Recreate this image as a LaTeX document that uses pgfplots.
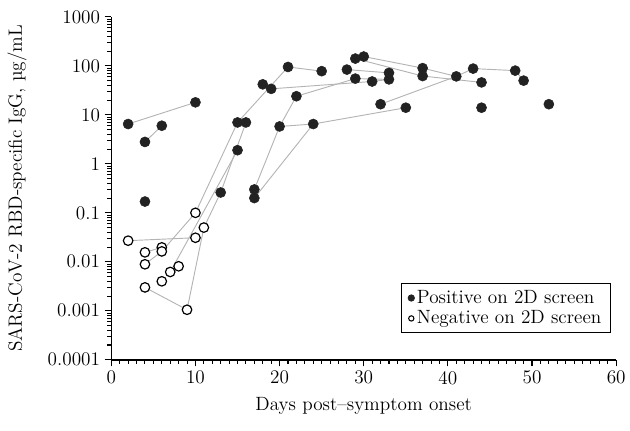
\documentclass[border=0pt]{standalone}
\usepackage{fontspec}
\usepackage{pgfplots}
\pgfplotsset{compat=1.18}
\definecolor{dot}{HTML}{222222}
\definecolor{link}{HTML}{B4B4B4}

\begin{document}
\begin{tikzpicture}
\begin{axis}[
  scale only axis,
  width=381pt, height=258.75pt,
  ymode=log,
  xmin=0, xmax=60, ymin=1e-4, ymax=1e3,
  axis lines*=left,
  axis line style={line width=1.1pt, black},
  tick align=outside,
  tick style={black, line width=0.8pt},
  major tick length=5pt, minor tick length=3pt,
  xtick={0,10,...,60}, minor x tick num=9,
  ytick={1e-4,1e-3,1e-2,1e-1,1,10,100,1000},
  yticklabels={0.0001,0.001,0.01,0.1,1,10,100,1000},
  /pgf/number format/assume math mode=true,
  tick label style={font=\fontsize{14.5}{16}\selectfont},
  label style={font=\fontsize{14.5}{16}\selectfont},
  xlabel={Days post–symptom onset},
  ylabel={SARS-CoV-2 RBD-specific IgG, µg/mL},
  xlabel style={yshift=-3pt},
  ylabel style={yshift=9pt},
  clip=false,
  legend style={font=\fontsize{14.5}{15}\selectfont, draw=black, line width=0.8pt,
    at={(0.99,0.223)}, anchor=north east, inner xsep=5pt, inner ysep=3pt,
    row sep=0pt, cells={anchor=west}},
  legend cell align=left,
  legend image code/.code={\draw[#1] plot coordinates {(0.12cm,0cm)};},
]
% gray links between samples of the same patient
\addplot[link, line width=0.7pt, forget plot] coordinates {(2,6.5) (10,18)};
\addplot[link, line width=0.7pt, forget plot] coordinates {(4,2.8) (6,6)};
\addplot[link, line width=0.7pt, forget plot] coordinates {(2,0.027) (10,0.031)};
\addplot[link, line width=0.7pt, forget plot] coordinates {(4,0.0156) (6,0.0197)};
\addplot[link, line width=0.7pt, forget plot] coordinates {(4,0.0089) (6,0.0163) (10,0.1) (15,7) (21,95) (25,78)};
\addplot[link, line width=0.7pt, forget plot] coordinates {(4,0.003) (9,0.00105) (11,0.05) (13,0.26) (16,7)};
\addplot[link, line width=0.7pt, forget plot] coordinates {(7,0.0062) (15,1.9)};
\addplot[link, line width=0.7pt, forget plot] coordinates {(17,0.3) (20,5.8) (22,24) (29,55) (33,53)};
\addplot[link, line width=0.7pt, forget plot] coordinates {(17,0.2) (24,6.5) (35,14)};
\addplot[link, line width=0.7pt, forget plot] coordinates {(20,5.8) (24,6.5)};
\addplot[link, line width=0.7pt, forget plot] coordinates {(19,34) (31,48) (33,53)};
\addplot[link, line width=0.7pt, forget plot] coordinates {(28,84) (33,72)};
\addplot[link, line width=0.7pt, forget plot] coordinates {(29,141) (37,62) (44,46)};
\addplot[link, line width=0.7pt, forget plot] coordinates {(30,155) (37,90) (41,61) (43,88) (48,80) (49,50)};
\addplot[link, line width=0.7pt, forget plot] coordinates {(32,16.5) (41,61)};

% positive samples
\addplot[only marks, mark=*, mark size=3.8pt, mark options={fill=dot, draw=dot},
  legend image post style={mark size=2.3pt}] coordinates {
  (2,6.5) (10,18) (4,2.8) (6,6) (4,0.17)
  (15,7) (16,7) (15,1.9) (13,0.26) (17,0.3) (17,0.2)
  (18,42) (19,34) (21,95) (25,78) (20,5.8) (22,24) (24,6.5)
  (28,84) (29,141) (30,155) (29,55) (31,48) (33,72) (33,53)
  (32,16.5) (35,14) (37,90) (37,62) (41,61) (43,88) (48,80)
  (49,50) (44,46) (44,14) (52,16.5)};
% negative samples
\addplot[only marks, mark=*, mark size=3.6pt, mark options={fill=white, draw=black, line width=0.9pt},
  legend image post style={mark size=2pt, mark options={fill=white, draw=black, line width=0.8pt}}] coordinates {
  (2,0.027) (4,0.0156) (4,0.0089) (4,0.003) (6,0.0197) (6,0.0163)
  (6,0.004) (7,0.0062) (8,0.0081) (9,0.00105) (10,0.1) (10,0.031) (11,0.05)};
\legend{Positive on 2D screen, Negative on 2D screen}
\end{axis}
\path (current axis.south west) ++(-84pt,-53.25pt);
\path (current axis.north east) ++(7.5pt,12.75pt);
\end{tikzpicture}
\end{document}
